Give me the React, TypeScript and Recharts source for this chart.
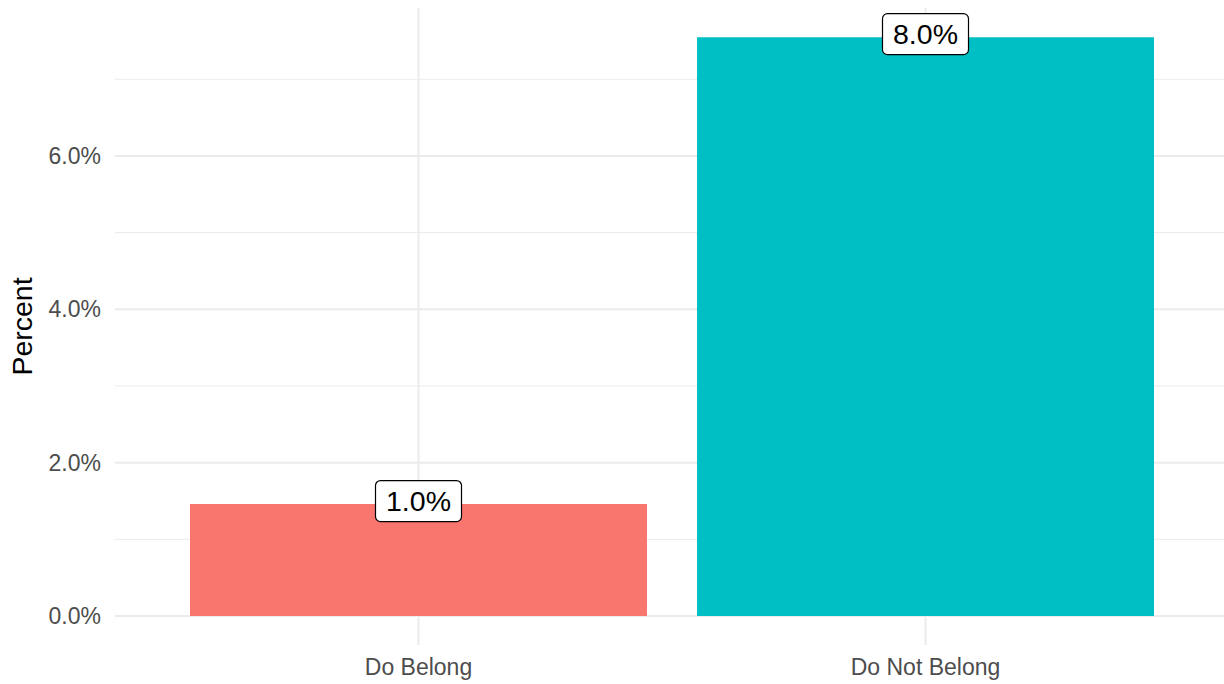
import React from 'react';
import { BarChart, Bar, XAxis, YAxis, CartesianGrid, Cell, LabelList } from 'recharts';

const categories = ['Do Belong', 'Do Not Belong'];
const values = [1.46, 7.55];
const labels = ['1.0%', '8.0%'];
const colors = ['#F8766D', '#00BFC4'];
const yTicks = [0, 2, 4, 6];
const yMinor = [1, 3, 5, 7];

const data = categories.map((c, i) => ({ name: c, value: values[i], label: labels[i] }));

const FONT = 'Liberation Sans, Arial, sans-serif';

const LabelBox = (props: any) => {
  const { x, y, width, value } = props;
  const cx = x + width / 2;
  const cy = y - 3;
  const w = 86;
  const h = 41;
  return (
    <g>
      <rect x={cx - w / 2} y={cy - h / 2} width={w} height={h} rx={5} ry={5} fill="#ffffff" stroke="#000000" strokeWidth={1.2} />
      <text x={cx} y={cy} textAnchor="middle" dominantBaseline="central" fontSize={28.5} fontFamily={FONT} fill="#000000">
        {value}
      </text>
    </g>
  );
};

const YTitle = (props: any) => {
  const { viewBox } = props;
  const cy = viewBox.y + viewBox.height / 2;
  return (
    <text x={22} y={cy} transform={`rotate(-90, 22, ${cy})`} textAnchor="middle" dominantBaseline="central" fontSize={28.5} fontFamily={FONT} fill="#000000">
      Percent
    </text>
  );
};

export default function App() {
  return (
    <div style={{ position: 'absolute', left: 0, top: 0, width: 1224, height: 684, background: '#fff' }}>
      <BarChart width={1224} height={684} data={data} margin={{ top: 8, right: 0, bottom: 0, left: 0 }}>
        <CartesianGrid stroke="#ebebeb" strokeWidth={1} horizontalValues={yMinor} vertical={false} syncWithTicks />
        <CartesianGrid stroke="#ebebeb" strokeWidth={2} horizontalValues={yTicks} vertical={true} syncWithTicks />
        <XAxis
          dataKey="name"
          type="category"
          padding={{ left: 50, right: 45 }}
          height={39}
          axisLine={false}
          tickLine={false}
          tickSize={0}
          tickMargin={14}
          tick={{ fontSize: 23, fill: '#4d4d4d', fontFamily: FONT }}
          interval={0}
        />
        <YAxis
          type="number"
          domain={[-0.378, 7.93]}
          ticks={yTicks}
          allowDataOverflow
          width={115}
          axisLine={false}
          tickLine={false}
          tickSize={0}
          tickMargin={14}
          tickFormatter={(v: number) => `${v.toFixed(1)}%`}
          tick={{ fontSize: 23, fill: '#4d4d4d', fontFamily: FONT }}
          label={<YTitle />}
        />
        <Bar dataKey="value" barSize={457} isAnimationActive={false}>
          {data.map((d, i) => (
            <Cell key={d.name} fill={colors[i]} />
          ))}
          <LabelList dataKey="label" content={<LabelBox />} />
        </Bar>
      </BarChart>
    </div>
  );
}
